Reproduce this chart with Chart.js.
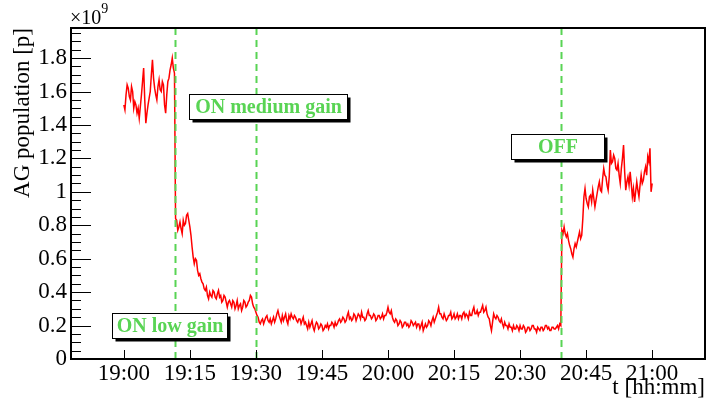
<!DOCTYPE html>
<html>
<head>
<meta charset="utf-8">
<script src="https://cdn.jsdelivr.net/npm/chart.js@4/dist/chart.umd.min.js"></script>
<style>
  html, body { margin: 0; padding: 0; background: #fff; }
  #wrap { width: 707px; height: 403px; position: relative; }
</style>
</head>
<body>
<div id="wrap"><canvas id="agChart"></canvas></div>
<script>
// minutes after 19:00
const xTickValues = [0, 15, 30, 45, 60, 75, 90, 105, 120];
const xTickLabels = ['19:00', '19:15', '19:30', '19:45', '20:00', '20:15', '20:30', '20:45', '21:00'];
const yTickValues = [0, 0.2, 0.4, 0.6, 0.8, 1.0, 1.2, 1.4, 1.6, 1.8];
const yTickLabels = ['0', '0.2', '0.4', '0.6', '0.8', '1', '1.2', '1.4', '1.6', '1.8'];

// AG population in units of 1e9, one sample every quarter minute from 19:00
// (each row = 2 minutes)
const sampleStart = 0;
const sampleStep = 0.25;
const population = [
    1.52, 1.49, 1.58, 1.64, 1.62, 1.57, 1.55, 1.63,
    1.60, 1.50, 1.54, 1.52, 1.47, 1.50, 1.44, 1.51,
    1.58, 1.66, 1.74, 1.55, 1.41, 1.47, 1.52, 1.56,
    1.60, 1.70, 1.79, 1.68, 1.62, 1.58, 1.55, 1.63,
    1.67, 1.61, 1.60, 1.66, 1.64, 1.52, 1.47, 1.58,
    1.66, 1.68, 1.73, 1.76, 1.80, 1.74, 1.71, 0.84,
    0.83, 0.77, 0.79, 0.82, 0.78, 0.75, 0.83, 0.80,
    0.81, 0.86, 0.87, 0.83, 0.79, 0.74, 0.67, 0.61,
    0.57, 0.60, 0.59, 0.53, 0.50, 0.51, 0.48, 0.46,
    0.45, 0.42, 0.41, 0.43, 0.38, 0.36, 0.40, 0.38,
    0.37, 0.41, 0.40, 0.37, 0.36, 0.39, 0.41, 0.37,
    0.38, 0.34, 0.35, 0.38, 0.37, 0.34, 0.31, 0.34,
    0.35, 0.33, 0.31, 0.35, 0.34, 0.30, 0.32, 0.35,
    0.30, 0.32, 0.33, 0.29, 0.31, 0.35, 0.34, 0.31,
    0.32, 0.34, 0.35, 0.38, 0.37, 0.33, 0.31, 0.30,
    0.28, 0.26, 0.25, 0.22, 0.21, 0.23, 0.24, 0.21,
    0.23, 0.25, 0.26, 0.23, 0.22, 0.24, 0.21, 0.23,
    0.25, 0.22, 0.24, 0.27, 0.29, 0.26, 0.24, 0.22,
    0.26, 0.23, 0.25, 0.27, 0.23, 0.21, 0.26, 0.24,
    0.27, 0.25, 0.24, 0.26, 0.25, 0.23, 0.22, 0.24,
    0.24, 0.21, 0.23, 0.25, 0.21, 0.22, 0.20, 0.18,
    0.22, 0.19, 0.21, 0.23, 0.19, 0.17, 0.20, 0.22,
    0.21, 0.18, 0.19, 0.21, 0.20, 0.17, 0.18, 0.20,
    0.19, 0.21, 0.18, 0.20, 0.20, 0.22, 0.21, 0.19,
    0.22, 0.20, 0.21, 0.23, 0.24, 0.22, 0.23, 0.25,
    0.24, 0.22, 0.23, 0.26, 0.28, 0.24, 0.25, 0.23,
    0.24, 0.27, 0.26, 0.23, 0.25, 0.27, 0.26, 0.24,
    0.28, 0.25, 0.25, 0.23, 0.24, 0.27, 0.29, 0.26,
    0.26, 0.24, 0.25, 0.27, 0.26, 0.23, 0.24, 0.26,
    0.26, 0.24, 0.25, 0.27, 0.24, 0.26, 0.26, 0.28,
    0.31, 0.28, 0.27, 0.29, 0.25, 0.23, 0.22, 0.24,
    0.23, 0.20, 0.21, 0.23, 0.22, 0.19, 0.20, 0.22,
    0.22, 0.20, 0.21, 0.19, 0.20, 0.23, 0.22, 0.20,
    0.21, 0.22, 0.19, 0.21, 0.21, 0.18, 0.20, 0.22,
    0.17, 0.19, 0.21, 0.19, 0.20, 0.23, 0.22, 0.20,
    0.23, 0.25, 0.22, 0.24, 0.26, 0.28, 0.31, 0.27,
    0.27, 0.25, 0.24, 0.27, 0.25, 0.23, 0.24, 0.26,
    0.26, 0.28, 0.24, 0.25, 0.27, 0.24, 0.25, 0.27,
    0.24, 0.26, 0.26, 0.24, 0.27, 0.28, 0.25, 0.27,
    0.26, 0.24, 0.28, 0.26, 0.26, 0.29, 0.31, 0.27,
    0.27, 0.29, 0.26, 0.28, 0.28, 0.30, 0.32, 0.28,
    0.29, 0.31, 0.27, 0.25, 0.24, 0.20, 0.17, 0.22,
    0.27, 0.25, 0.24, 0.26, 0.25, 0.23, 0.22, 0.24,
    0.21, 0.19, 0.22, 0.20, 0.20, 0.18, 0.21, 0.19,
    0.19, 0.17, 0.20, 0.18, 0.18, 0.20, 0.19, 0.17,
    0.20, 0.18, 0.18, 0.20, 0.19, 0.16, 0.17, 0.19,
    0.19, 0.17, 0.18, 0.20, 0.20, 0.18, 0.18, 0.16,
    0.19, 0.18, 0.17, 0.19, 0.19, 0.17, 0.18, 0.20,
    0.20, 0.18, 0.19, 0.17, 0.17, 0.19, 0.19, 0.18,
    0.18, 0.19, 0.20, 0.18, 0.21, 0.20, 0.77, 0.75,
    0.79, 0.75, 0.73, 0.75, 0.71, 0.68, 0.66, 0.63,
    0.61, 0.66, 0.69, 0.67, 0.70, 0.73, 0.76, 0.72,
    0.74, 0.84, 0.97, 1.02, 0.96, 0.93, 0.91, 0.97,
    0.98, 0.94, 1.01, 0.96, 0.91, 0.95, 0.99, 1.03,
    1.06, 1.01, 1.00, 1.08, 1.14, 1.10, 1.09, 1.04,
    1.01, 1.09, 1.25, 1.17, 1.18, 1.22, 1.20, 1.14,
    1.13, 1.17, 1.10, 1.05, 1.14, 1.20, 1.28, 1.12,
    1.01, 1.06, 1.09, 1.04, 1.12, 1.05, 0.97, 1.02,
    0.94, 1.00, 1.06, 1.01, 0.97, 1.04, 1.10, 1.05,
    1.07, 1.12, 1.15, 1.10, 1.21, 1.18, 1.26, 1.00,
    1.05
];

// gain switching moments (minutes after 19:00)
const switchTimes = [11.6, 30.0, 99.3];
const noteTexts = ['ON low gain', 'ON medium gain', 'OFF'];

const notes = [
    { text: noteTexts[0], x: 10.3, y: 0.198, w: 115 },
    { text: noteTexts[1], x: 32.65, y: 1.509, w: 158 },
    { text: noteTexts[2], x: 98.5, y: 1.27, w: 93 }
];

const GREEN = 'rgb(89, 212, 84)';
const SERIF = '"Liberation Serif", "DejaVu Serif", serif';

const points = population.map((v, i) => ({ x: sampleStart + i * sampleStep, y: v }));

const rootStylePlugin = {
    id: 'rootStyle',
    afterDatasetsDraw(chart) {
        const { ctx, chartArea: area, scales: { x, y } } = chart;

        // switching markers
        ctx.save();
        ctx.strokeStyle = GREEN;
        ctx.lineWidth = 2;
        ctx.setLineDash([7, 5]);
        switchTimes.forEach((t) => {
            const px = Math.round(x.getPixelForValue(t)) + 0.5;
            ctx.beginPath();
            ctx.moveTo(px, area.bottom);
            ctx.lineTo(px, area.top);
            ctx.stroke();
        });
        ctx.restore();

        // text boxes with shadow
        ctx.save();
        notes.forEach((n) => {
            const cx = x.getPixelForValue(n.x);
            const cy = y.getPixelForValue(n.y);
            const h = 25;
            const left = Math.round(cx - n.w / 2) + 0.5;
            const top = Math.round(cy - h / 2) + 0.5;
            ctx.fillStyle = '#000';
            ctx.fillRect(left + 3, top + 3, n.w, h);
            ctx.fillStyle = '#fff';
            ctx.fillRect(left, top, n.w, h);
            ctx.strokeStyle = '#000';
            ctx.lineWidth = 1;
            ctx.strokeRect(left, top, n.w, h);
            ctx.fillStyle = GREEN;
            ctx.font = `bold 20px ${SERIF}`;
            ctx.textAlign = 'center';
            ctx.textBaseline = 'middle';
            ctx.fillText(n.text, left + n.w / 2, top + h / 2 + 1);
        });
        ctx.restore();
    },
    afterDraw(chart) {
        const { ctx, chartArea: area, scales: { x, y } } = chart;
        ctx.save();
        ctx.strokeStyle = '#000';

        // y ticks inside the frame, minor every 0.05
        ctx.lineWidth = 1;
        for (let i = 0; i < yTickValues.length; i++) {
            const base = yTickValues[i];
            for (let k = 0; k < 4; k++) {
                const v = base + k * 0.05;
                const py = Math.round(y.getPixelForValue(v)) + 0.5;
                if (py < area.top) continue;
                const len = k === 0 ? 20 : 10;
                ctx.beginPath();
                ctx.moveTo(area.left, py);
                ctx.lineTo(area.left + len, py);
                ctx.stroke();
            }
        }
        // x ticks
        xTickValues.forEach((t) => {
            const px = Math.round(x.getPixelForValue(t)) + 0.5;
            ctx.beginPath();
            ctx.moveTo(px, area.bottom);
            ctx.lineTo(px, area.bottom - 9);
            ctx.stroke();
        });

        // frame
        ctx.lineWidth = 2;
        ctx.strokeRect(area.left, area.top, area.right - area.left, area.bottom - area.top);

        // exponent
        ctx.fillStyle = '#000';
        ctx.textBaseline = 'alphabetic';
        ctx.textAlign = 'left';
        ctx.font = `20px ${SERIF}`;
        ctx.fillText('\u00d710', area.left - 1, 24);
        const w = ctx.measureText('\u00d710').width;
        ctx.font = `14px ${SERIF}`;
        ctx.fillText('9', area.left - 1 + w, 13);
        ctx.restore();
    }
};

new Chart(document.getElementById('agChart'), {
    type: 'line',
    data: {
        datasets: [{
            label: 'AG population',
            data: points,
            borderColor: '#ff0000',
            borderWidth: 1.5,
            pointRadius: 0,
            tension: 0,
            fill: false
        }]
    },
    options: {
        responsive: true,
        maintainAspectRatio: false,
        animation: false,
        devicePixelRatio: 1,
        layout: { padding: { top: 28, right: 2, left: 0, bottom: 0 } },
        plugins: {
            legend: { display: false },
            tooltip: { enabled: false }
        },
        scales: {
            x: {
                type: 'linear',
                min: -12,
                max: 132,
                afterBuildTicks: (scale) => {
                    scale.ticks = xTickValues.map((value) => ({ value }));
                },
                afterFit: (scale) => { scale.height = 44; },
                grid: { display: false, drawTicks: false },
                border: { display: false },
                ticks: {
                    padding: 1,
                    maxRotation: 0,
                    autoSkip: false,
                    color: '#000',
                    font: { family: SERIF, size: 23 },
                    callback: (value, index) => xTickLabels[index]
                },
                title: {
                    display: true,
                    text: 't [hh:mm]',
                    align: 'end',
                    color: '#000',
                    font: { family: SERIF, size: 23 },
                    padding: { top: 0, bottom: 1 }
                }
            },
            y: {
                min: 0,
                max: 1.98,
                afterBuildTicks: (scale) => {
                    scale.ticks = yTickValues.map((value) => ({ value }));
                },
                afterFit: (scale) => { scale.width = 71; },
                grid: { display: false, drawTicks: false },
                border: { display: false },
                ticks: {
                    padding: 4,
                    autoSkip: false,
                    color: '#000',
                    font: { family: SERIF, size: 23 },
                    callback: (value, index) => yTickLabels[index]
                },
                title: {
                    display: true,
                    text: 'AG population [p]',
                    align: 'end',
                    color: '#000',
                    font: { family: SERIF, size: 23 },
                    padding: { top: 9, bottom: 0 }
                }
            }
        }
    },
    plugins: [rootStylePlugin]
});
</script>
</body>
</html>
